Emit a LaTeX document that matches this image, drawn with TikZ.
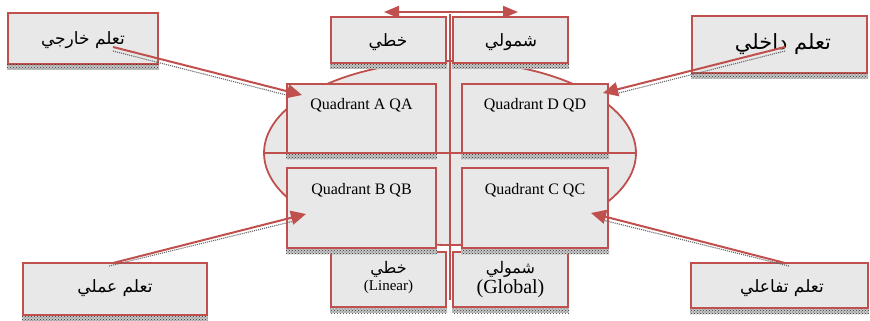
\documentclass[tikz,border=0pt]{standalone}
\usepackage{fontspec}
\setmainfont{Liberation Serif}
\newfontfamily\arabicfont[Script=Arabic]{DejaVu Sans}
\TeXXeTstate=1
\usetikzlibrary{arrows.meta,patterns,shapes.geometric,calc}
\definecolor{myred}{HTML}{C0504D}
\definecolor{boxgray}{HTML}{E8E8E8}
\newcommand\shadowbox[1]{\fill[gray!45] (#1.south west) rectangle ([yshift=-5pt]#1.south east);
  \fill[pattern=crosshatch dots, pattern color=black!80] (#1.south west) rectangle ([yshift=-5pt]#1.south east);}
\begin{document}
\begin{tikzpicture}[x=1pt,y=-1pt,
  box/.style={draw=myred, line width=2pt, fill=boxgray, inner sep=0pt},
  arr/.style={draw=myred, line width=2pt, -{Triangle[length=15pt,width=14pt]}},
  arrshad/.style={draw=black!60, line width=1.1pt, densely dotted},
  ar/.style={font=\arabicfont\fontsize{17}{19}\selectfont, inner sep=0pt},
  qt/.style={font=\fontsize{16}{18}\selectfont, anchor=north, inner sep=0pt}]
\useasboundingbox (0,0) rectangle (870,321);
% ellipse and cross lines
\node[ellipse, draw=myred, line width=1.8pt, fill=boxgray, minimum width=372pt, minimum height=184pt, inner sep=0pt] (ell) at (450,153) {};
\draw[myred, line width=1.6pt] (ell.west) -- (ell.east);
\coordinate (vtop) at (450,14);
\coordinate (vbot) at (450,300);
\draw[myred, line width=2pt] (vtop) -- (vbot);
% top double arrow
\coordinate (dl) at (384,12);
\coordinate (dr) at (518,12);
\draw[myred, line width=2pt, {Triangle[length=15pt,width=12pt]}-{Triangle[length=15pt,width=12pt]}] (dl) -- (dr);
% boxes
\node[box, minimum width=150pt, minimum height=51pt] (ext) at (83,38.5) {};
\node[box, minimum width=115pt, minimum height=46pt] (lintop) at (388.5,40) {};
\node[box, minimum width=115pt, minimum height=46pt] (globtop) at (510.5,40) {};
\node[box, minimum width=175pt, minimum height=57pt] (int) at (779.5,44.5) {};
\node[box, minimum width=149pt, minimum height=69pt] (qa) at (361.5,118.5) {};
\node[box, minimum width=146pt, minimum height=69pt] (qd) at (535,118.5) {};
\node[box, minimum width=149pt, minimum height=80pt] (qb) at (361.5,208) {};
\node[box, minimum width=146pt, minimum height=80pt] (qc) at (535,208) {};
\node[box, minimum width=115pt, minimum height=55pt] (linbot) at (388.5,279.5) {};
\node[box, minimum width=115pt, minimum height=55pt] (globbot) at (510.5,279.5) {};
\node[box, minimum width=184pt, minimum height=52pt] (prac) at (115,289) {};
\node[box, minimum width=177pt, minimum height=45pt] (inter) at (779.5,285.5) {};
\foreach \b in {ext,lintop,globtop,int,qa,qd,qb,qc,linbot,globbot,prac,inter}{\shadowbox{\b}}
% texts
\node[ar] at (83,40) {\beginR تعلم خارجي\endR};
\node[ar] at (388,42) {\beginR خطي\endR};
\node[ar] at (511,42) {\beginR شمولي\endR};
\node[ar, font=\arabicfont\fontsize{21}{23}\selectfont] at (783,44) {\beginR تعلم داخلي\endR};
\node[ar] at (115,288) {\beginR تعلم عملي\endR};
\node[ar] at (782,288) {\beginR تعلم تفاعلي\endR};
\node[qt] at ([yshift=-15pt]qa.north) {Quadrant A QA};
\node[qt] at ([yshift=-15pt]qd.north) {Quadrant D QD};
\node[qt] at ([yshift=-16pt]qb.north) {Quadrant B QB};
\node[qt] at ([yshift=-16pt]qc.north) {Quadrant C QC};
\node[ar, font=\arabicfont\fontsize{16}{18}\selectfont] at (388.5,269) {\beginR خطي\endR};
\node[inner sep=0pt, font=\fontsize{15}{17}\selectfont] at (388.5,287) {(Linear)};
\node[ar, font=\arabicfont\fontsize{16}{18}\selectfont] at (510.5,269) {\beginR شمولي\endR};
\node[inner sep=0pt, font=\fontsize{20}{22}\selectfont] at (510.5,289) {(Global)};
% arrows
\coordinate (s1) at (113,47);  \coordinate (t1) at (302,95);
\coordinate (s2) at (785,47);  \coordinate (t2) at (603,93);
\coordinate (s3) at (113,263); \coordinate (t3) at (306,214);
\coordinate (s4) at (785,263); \coordinate (t4) at (591,213);
\draw[arrshad] ([yshift=-4pt]s1) -- ([yshift=-4pt]$(s1)!0.93!(t1)$);
\draw[arrshad] ([yshift=-4pt]s2) -- ([yshift=-4pt]$(s2)!0.93!(t2)$);
\draw[arrshad] ([xshift=-4pt,yshift=-3pt]s3) -- ([yshift=-4pt]$(s3)!0.93!(t3)$);
\draw[arrshad] ([xshift=4pt,yshift=-3pt]s4) -- ([yshift=-4pt]$(s4)!0.93!(t4)$);
\draw[arr] (s1) -- (t1);
\draw[arr] (s2) -- (t2);
\draw[arr] (s3) -- (t3);
\draw[arr] (s4) -- (t4);
\end{tikzpicture}
\end{document}
